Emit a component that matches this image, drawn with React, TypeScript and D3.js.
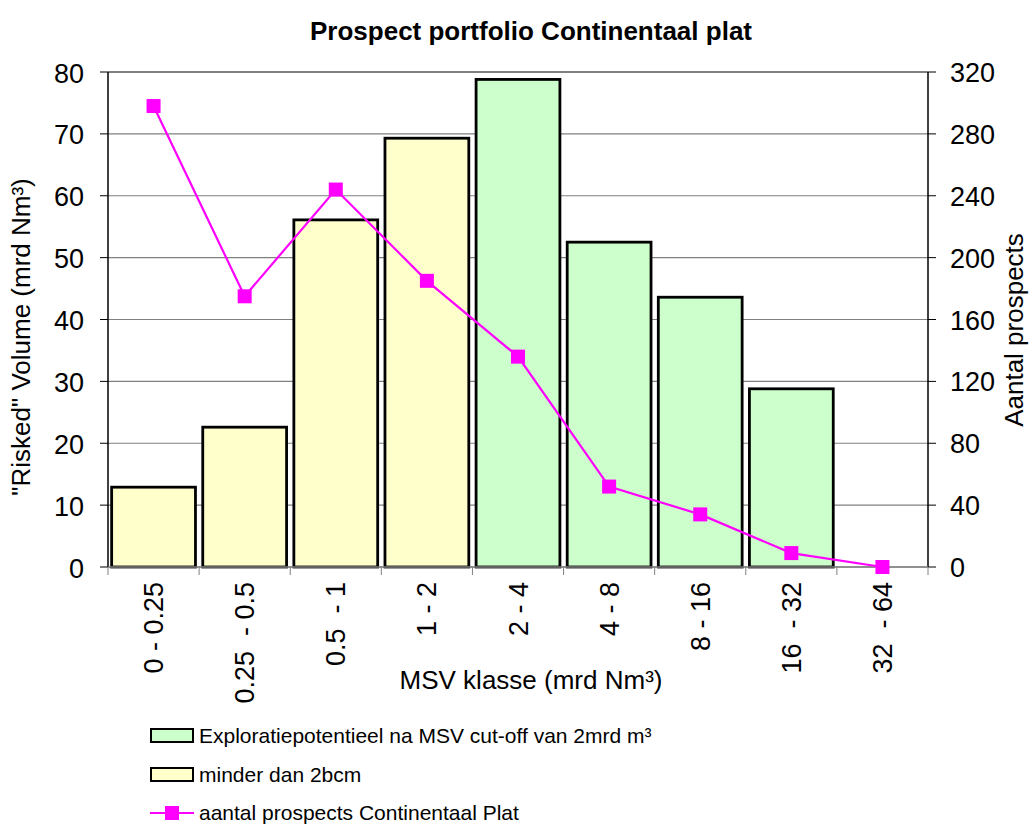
import React from "react";
import * as d3 from "d3";

const categories = ["0 - 0.25", "0.25  - 0.5", "0.5  - 1", "1 - 2", "2 - 4", "4 - 8", "8 - 16", "16  - 32", "32  - 64"];
const explorationValues = [0, 0, 0, 0, 78.8, 52.5, 43.6, 28.8, 0];
const minderValues = [12.9, 22.6, 56.1, 69.3, 0, 0, 0, 0, 0];
const prospectCounts = [298, 175, 244, 185, 136, 52, 34, 9, 0];
const leftTicks = [0, 10, 20, 30, 40, 50, 60, 70, 80];
const rightTicks = [0, 40, 80, 120, 160, 200, 240, 280, 320];

const FONT = "'Liberation Sans', Arial, sans-serif";
const GREEN = "#CCFFCC";
const YELLOW = "#FFFFCC";
const MAGENTA = "#FF00FF";

export default function App() {
  const left = 108, right = 928, top = 72, bottom = 567;
  const x = d3.scaleBand<string>().domain(categories).range([left, right]).paddingInner(0.08).paddingOuter(0.04);
  const xc = d3.scaleBand<string>().domain(categories).range([left, right]);
  const yL = d3.scaleLinear().domain([0, 80]).range([bottom, top]);
  const yR = d3.scaleLinear().domain([0, 320]).range([bottom, top]);
  const line = d3.line<number>().x((_, i) => (xc(categories[i]) as number) + xc.bandwidth() / 2).y((d) => yR(d));

  const bars: { v: number; fill: string; c: string }[] = [];
  categories.forEach((c, i) => {
    if (minderValues[i] > 0) bars.push({ v: minderValues[i], fill: YELLOW, c });
    if (explorationValues[i] > 0) bars.push({ v: explorationValues[i], fill: GREEN, c });
  });

  const ms = 14;
  return (
    <svg width={1031} height={829} style={{ position: "absolute", left: 0, top: 0, background: "#fff" }} fontFamily={FONT}>
      <text x={531} y={40} textAnchor="middle" fontSize={26} fontWeight="bold">Prospect portfolio Continentaal plat</text>
      {leftTicks.map((t) => (
        <g key={"g" + t}>
          <line x1={left} x2={right} y1={yL(t)} y2={yL(t)} stroke="#808080" strokeWidth={t === 80 ? 2 : 1.2} />
          <line x1={left - 8} x2={left} y1={yL(t)} y2={yL(t)} stroke="#000" />
          <text x={84} y={yL(t) + 10.5} textAnchor="end" fontSize={27}>{t}</text>
        </g>
      ))}
      {rightTicks.map((t) => (
        <g key={"r" + t}>
          <line x1={right} x2={right + 8} y1={yR(t)} y2={yR(t)} stroke="#000" />
          <text x={950} y={yR(t) + 10} textAnchor="start" fontSize={27}>{t}</text>
        </g>
      ))}
      {bars.map((b, i) => (
        <rect key={i} x={x(b.c)} y={yL(b.v)} width={x.bandwidth()} height={bottom - yL(b.v)} fill={b.fill} stroke="#000" strokeWidth={2.8} />
      ))}
      <line x1={left} x2={left} y1={top} y2={bottom} stroke="#000" strokeWidth={1.5} />
      <line x1={right} x2={right} y1={top} y2={bottom} stroke="#000" strokeWidth={1.5} />
      <line x1={left} x2={right} y1={bottom} y2={bottom} stroke="#808080" strokeWidth={1.5} />
      {categories.concat(["end"]).map((_, i) => {
        const xx = left + (i * (right - left)) / categories.length;
        return <line key={"xt" + i} x1={xx} x2={xx} y1={bottom} y2={bottom + 8} stroke="#808080" />;
      })}
      {categories.map((c) => {
        const cx = (xc(c) as number) + xc.bandwidth() / 2;
        return (
          <text key={"l" + c} transform={`translate(${cx + 9.5},582) rotate(-90)`} textAnchor="end" fontSize={27} style={{ whiteSpace: "pre" }}>{c}</text>
        );
      })}
      <path d={line(prospectCounts) as string} fill="none" stroke={MAGENTA} strokeWidth={2.2} />
      {prospectCounts.map((v, i) => {
        const cx = (xc(categories[i]) as number) + xc.bandwidth() / 2;
        return <rect key={"m" + i} x={cx - ms / 2} y={yR(v) - ms / 2} width={ms} height={ms} fill={MAGENTA} />;
      })}
      <text x={531} y={689} textAnchor="middle" fontSize={26}>MSV klasse (mrd Nm³)</text>
      <text transform="translate(30,337) rotate(-90)" textAnchor="middle" fontSize={26}>"Risked" Volume (mrd Nm³)</text>
      <text transform="translate(1023,330) rotate(-90)" textAnchor="middle" fontSize={26}>Aantal prospects</text>
      <rect x={151} y={729} width={42} height={13} fill={GREEN} stroke="#000" strokeWidth={2} />
      <text x={199} y={743} fontSize={21}>Exploratiepotentieel na MSV cut-off van 2mrd m³</text>
      <rect x={151} y={768} width={42} height={13} fill={YELLOW} stroke="#000" strokeWidth={2} />
      <text x={199} y={782} fontSize={21}>minder dan 2bcm</text>
      <line x1={150} x2={194} y1={813} y2={813} stroke={MAGENTA} strokeWidth={2} />
      <rect x={165} y={806} width={14} height={14} fill={MAGENTA} />
      <text x={199} y={820} fontSize={21}>aantal prospects Continentaal Plat</text>
    </svg>
  );
}
